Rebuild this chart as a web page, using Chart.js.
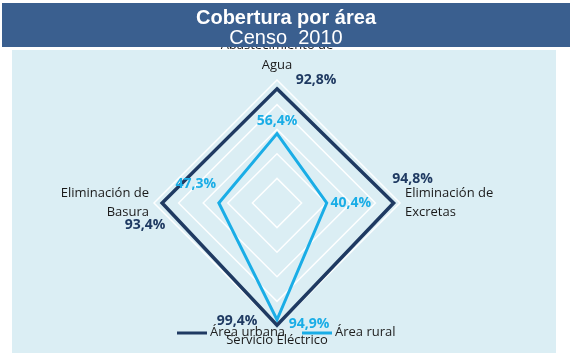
<!DOCTYPE html>
<html>
<head>
<meta charset="utf-8">
<script src="https://cdn.jsdelivr.net/npm/chart.js@4.4.1/dist/chart.umd.min.js"></script>
<style>
	html, body { margin: 0; padding: 0; width: 576px; height: 353px; overflow: hidden; background: #fff; }
	#panel { position: absolute; left: 12px; top: 50px; width: 544px; height: 303px; background: #dbeef4; }
	#wrap { position: absolute; left: 0; top: 0; width: 576px; height: 380px; }
	#header { position: absolute; left: 2px; top: 3px; width: 568px; height: 44px; background: #3a5f8f;
		color: #fff; font-family: "Liberation Sans", Arial, sans-serif; text-align: center; z-index: 2; }
	#header .t1 { font-weight: bold; font-size: 20px; line-height: 20px; margin-top: 4px; }
	#header .t2 { font-size: 20px; line-height: 20px; white-space: pre; }
</style>
</head>
<body>
<div id="panel"></div>
<div id="wrap"><canvas id="coberturaRadar"></canvas></div>
<div id="header"><div class="t1">Cobertura por área</div><div class="t2">Censo  2010</div></div>
<script>
// COBERTURA POR AREA - CENSO 2010

const areas = [["Abastecimiento de", "Agua"], ["Eliminación de", "Excretas"], "Servicio Eléctrico", ["Eliminación de", "Basura"]];
const urbanaData = [92.8, 94.8, 99.4, 93.4];
const ruralData = [56.4, 40.4, 94.9, 47.3];
const seriesNames = ["Área urbana", "Área rural"];

const navy = "#1f3a62";
const sky = "#1aade6";

// offsets (px) of each value label from its vertex
const labelOffsets = [
	[[39, -9], [19, -24], [-40, -4], [-17, 22]],
	[[0, -13], [24, 0], [32, 4], [-23, -19]],
];

const valueLabels = {
	id: "valueLabels",
	afterDatasetsDraw(chart) {
		const ctx = chart.ctx;
		ctx.save();
		ctx.font = "bold 14px 'Open Sans'";
		ctx.textAlign = "center";
		ctx.textBaseline = "middle";
		chart.data.datasets.forEach((ds, i) => {
			ctx.fillStyle = ds.borderColor;
			chart.getDatasetMeta(i).data.forEach((pt, j) => {
				const off = labelOffsets[i][j];
				ctx.fillText(ds.data[j].toFixed(1).replace(".", ",") + "%", pt.x + off[0], pt.y + off[1]);
			});
		});
		ctx.restore();
	},
};

// legend drawn over the bottom label, like the original
const lineLegend = {
	id: "lineLegend",
	afterDraw(chart) {
		const ctx = chart.ctx;
		const starts = [177, 302];
		ctx.save();
		ctx.font = "13px 'Open Sans'";
		ctx.textBaseline = "middle";
		chart.data.datasets.forEach((ds, i) => {
			const x = starts[i];
			ctx.strokeStyle = ds.borderColor;
			ctx.lineWidth = 3;
			ctx.beginPath();
			ctx.moveTo(x, 333);
			ctx.lineTo(x + 30, 333);
			ctx.stroke();
			ctx.fillStyle = "#222";
			ctx.fillText(ds.label, x + 33, 332);
		});
		ctx.restore();
	},
};

const radarData = {
	labels: areas,
	datasets: [
		{
			label: seriesNames[0],
			data: urbanaData,
			borderColor: navy,
			backgroundColor: "rgba(0,0,0,0)",
			borderWidth: 3.5,
			borderJoinStyle: "miter",
			pointRadius: 0,
		},
		{
			label: seriesNames[1],
			data: ruralData,
			borderColor: sky,
			backgroundColor: "rgba(0,0,0,0)",
			borderWidth: 3,
			borderJoinStyle: "miter",
			pointRadius: 0,
		},
	],
};

const radarConfig = {
	type: "radar",
	data: radarData,
	options: {
		responsive: true,
		maintainAspectRatio: false,
		animation: false,
		layout: { padding: { top: 27, bottom: 19, left: 0, right: 22 } },
		plugins: {
			legend: { display: false },
			tooltip: { enabled: false },
		},
		scales: {
			r: {
				min: 0,
				max: 100,
				ticks: { stepSize: 20, display: false },
				grid: { color: "rgba(255,255,255,0.95)", lineWidth: 1.5 },
				angleLines: { display: false },
				pointLabels: {
					padding: 5,
					color: "#1a1a1a",
					font: { family: "'Open Sans'", size: 13, lineHeight: 1.5 },
				},
			},
		},
	},
	plugins: [valueLabels, lineLegend],
};

const coberturaChart = new Chart(document.getElementById("coberturaRadar"), radarConfig);
</script>
</body>
</html>
